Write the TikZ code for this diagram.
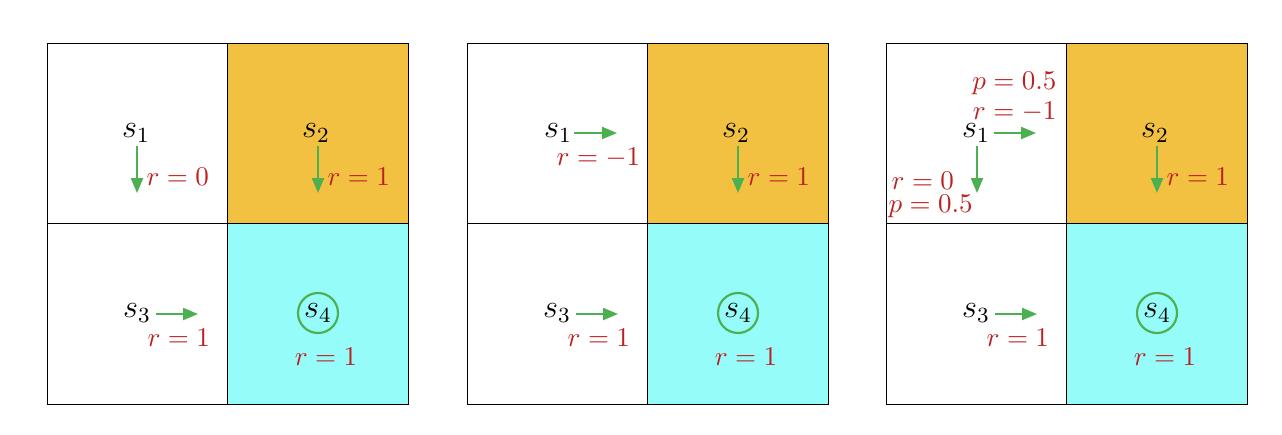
\documentclass[tikz,border=0pt]{standalone}
\usetikzlibrary{arrows.meta}
\definecolor{gold}{RGB}{243,193,66}
\definecolor{aqua}{RGB}{150,252,250}
\definecolor{grn}{RGB}{76,175,80}
\definecolor{rd}{RGB}{188,32,32}
\tikzset{
  cell/.style={draw=black, line width=0.4pt},
  st/.style={inner sep=0pt, text=black, font=\large},
  act/.style={draw=grn, line width=0.8pt, -{Triangle[length=5.5pt,width=4.4pt]}},
  rew/.style={text=rd, inner sep=0pt},
  goal/.style={draw=grn, line width=0.8pt, circle, minimum size=14.8pt, inner sep=0pt, text=black, font=\large}
}
\newcommand\panelbase{%
  \fill[gold] (227.5,43.5) rectangle (408.5,223.5);
  \fill[aqua] (227.5,223.5) rectangle (408.5,404.5);
  \draw[cell] (47.5,43.5) rectangle (408.5,404.5);
  \draw[cell] (227.5,43.5) -- (227.5,404.5);
  \draw[cell] (47.5,223.5) -- (408.5,223.5);
  \node[st] (s2) at (316,133) {$s_2$};
  \draw[act] (s2) ++(2,13) -- ++(0,47) coordinate (d2);
  \node[rew,anchor=west] (r2) at (327,177) {$r=1$};
  \node[st] (s3) at (137,313) {$s_3$};
  \draw[act] (s3) ++(19,1) -- ++(42,0) coordinate (e3);
  \node[rew,anchor=west] (r3) at (147,338) {$r=1$};
  \node[goal] (s4) at (318,313) {$s_4$};
  \node[rew] (r4) at (326,357) {$r=1$};
}
\begin{document}
\begin{tikzpicture}[x=0.37pt,y=-0.37pt]
\useasboundingbox (0,0) rectangle (1282,434);
% panel 1
\begin{scope}[name prefix=a-]
  \panelbase
  \node[st] (s1) at (136,133) {$s_1$};
  \draw[act] (s1) ++(1,13) -- ++(0,47) coordinate (d1);
  \node[rew,anchor=west] (r1) at (146,177) {$r=0$};
\end{scope}
% panel 2
\begin{scope}[shift={(420,0)}, name prefix=b-]
  \panelbase
  \node[st] (s1) at (138,133) {$s_1$};
  \draw[act] (s1) ++(16,0) -- ++(43,0) coordinate (e1);
  \node[rew,anchor=west] (r1) at (136,158) {$r=-1$};
\end{scope}
% panel 3
\begin{scope}[shift={(839,0)}, name prefix=c-]
  \panelbase
  \node[st] (s1) at (137,133) {$s_1$};
  \draw[act] (s1) ++(18,0) -- ++(42,0) coordinate (e1);
  \draw[act] (s1) ++(1,13) -- ++(0,47) coordinate (d1);
  \node[rew,anchor=east] (pa) at (218,83) {$p=0.5$};
  \node[rew,anchor=east] (ra) at (218,112) {$r=-1$};
  \node[rew,anchor=west] (rb) at (52,181) {$r=0$};
  \node[rew,anchor=west] (pb) at (49,206) {$p=0.5$};
\end{scope}
\end{tikzpicture}
\end{document}
